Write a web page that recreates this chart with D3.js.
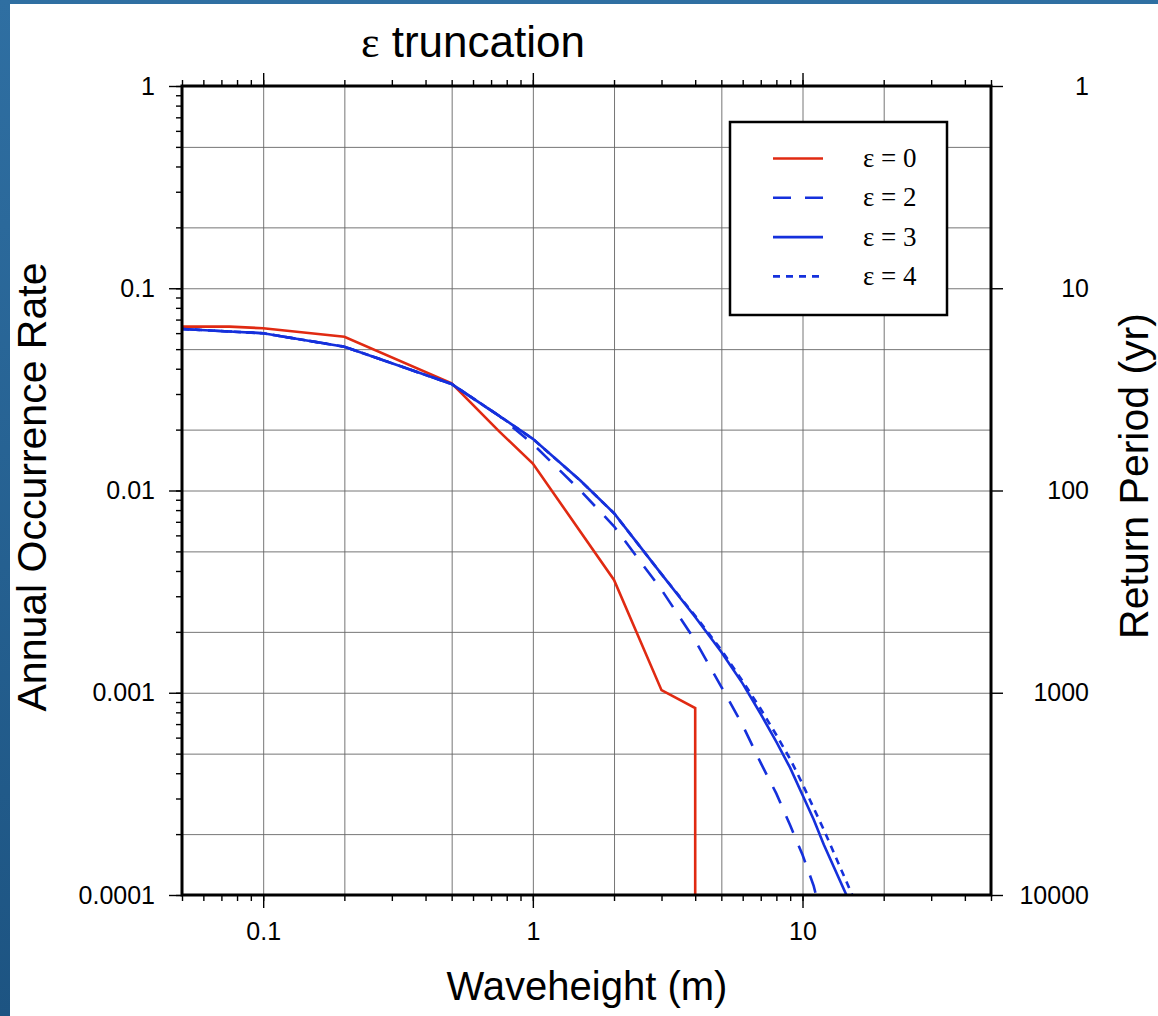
<!DOCTYPE html>
<html>
<head>
<meta charset="utf-8">
<script src="https://cdn.jsdelivr.net/npm/d3@7"></script>
<style>
  body { margin: 0; padding: 0; background: #fff; }
  text { font-family: "Liberation Sans", Arial, Helvetica, sans-serif; fill: #000; }
  .serif { font-family: "Liberation Serif", "Times New Roman", serif; }
</style>
</head>
<body>
<div id="chart"></div>
<script>
// chart.js

// Data
const heightsEps0 = [0.05, 0.075, 0.1, 0.2, 0.5, 0.75, 1, 2, 3, 4, 4];
const ratesEps0 = [0.0646, 0.0646, 0.0634, 0.0576, 0.0339, 0.0196, 0.0136, 0.00361, 0.00103, 0.00084, 0.00001];

const heights = [0.05, 0.075, 0.1, 0.2, 0.5, 0.75, 1, 1.5, 2, 3, 4, 5, 6, 7, 8, 9, 10, 11, 12, 15, 20];
const ratesEps2 = [0.0629, 0.0611, 0.0599, 0.0514, 0.0336, 0.0234, 0.0170, 0.0100, 0.00665, 0.00323, 0.00181, 0.00107, 0.00069, 0.00045, 0.000317, 0.000221, 0.000158, 0.000111, 0.00007, 0.00003, 0.00001];
const ratesEps3 = [0.0629, 0.0611, 0.0599, 0.0514, 0.0336, 0.0234, 0.0180, 0.0112, 0.00772, 0.00386, 0.00237, 0.00159, 0.00111, 0.000785, 0.000571, 0.000425, 0.000312, 0.000236, 0.000177, 0.0000913, 0.000035];
const ratesEps4 = [0.0629, 0.0611, 0.0599, 0.0514, 0.0336, 0.0234, 0.0180, 0.0112, 0.00772, 0.00386, 0.00240, 0.00163, 0.00114, 0.000831, 0.000618, 0.00047, 0.000354, 0.000269, 0.00021, 0.000106, 0.000045];

const seriesLabels = ['ε = 0', 'ε = 2', 'ε = 3', 'ε = 4'];

const xMajorTicks = [0.1, 1, 10];
const xGridTicks = [0.1, 0.2, 0.5, 1, 2, 5, 10, 20];
const yMajorTicks = [1, 0.1, 0.01, 0.001, 0.0001];
const yTickLabels = ['1', '0.1', '0.01', '0.001', '0.0001'];
const yGridTicks = [0.5, 0.2, 0.1, 0.05, 0.02, 0.01, 0.005, 0.002, 0.001, 0.0005, 0.0002];
const periodTicks = [1, 10, 100, 1000, 10000];

// Dimensions
const pageW = 1158;
const pageH = 1016;
const margin = { top: 86, right: 167, bottom: 121, left: 182 };
const width = pageW - margin.left - margin.right;
const height = pageH - margin.top - margin.bottom;

const red = '#e02a12';
const blue = '#1530dc';

const root = d3.select('#chart')
  .append('svg')
  .attr('width', pageW)
  .attr('height', pageH);

// slide background strip
const defs = root.append('defs');
const grad = defs.append('linearGradient')
  .attr('id', 'bg')
  .attr('x1', 0).attr('y1', 0).attr('x2', 0).attr('y2', 1);
grad.append('stop').attr('offset', '0%').attr('stop-color', '#2f6fa2');
grad.append('stop').attr('offset', '100%').attr('stop-color', '#1d5482');

root.append('rect')
  .attr('width', pageW).attr('height', pageH)
  .attr('fill', 'url(#bg)');
root.append('rect')
  .attr('x', 10).attr('y', 4)
  .attr('width', pageW - 10).attr('height', pageH - 4)
  .attr('fill', '#fff');

defs.append('clipPath').attr('id', 'plotClip')
  .append('rect').attr('width', width).attr('height', height);

const svg = root.append('g')
  .attr('transform', `translate(${margin.left},${margin.top})`);

// Scales
const x = d3.scaleLog().domain([0.05, 50]).range([0, width]);
const y = d3.scaleLog().domain([0.0001, 1]).range([height, 0]);
const yPeriod = d3.scaleLog().domain([1, 10000]).range([0, height]);

// minor ticks 2..9 in every decade
function minorTicks(lo, hi) {
  const out = [];
  for (let e = Math.floor(Math.log10(lo)); e <= Math.ceil(Math.log10(hi)); e++) {
    for (let k = 1; k <= 9; k++) {
      const v = k * Math.pow(10, e);
      if (v >= lo * 0.999 && v <= hi * 1.001) out.push(v);
    }
  }
  return out;
}
const xMinor = minorTicks(0.05, 50);
const yMinor = minorTicks(0.0001, 1);

// Grid
svg.append('g')
  .attr('class', 'grid')
  .call(d3.axisBottom(x).tickValues(xGridTicks).tickSize(height).tickFormat(''))
  .call(g => g.select('.domain').remove());
svg.append('g')
  .attr('class', 'grid')
  .call(d3.axisRight(y).tickValues(yGridTicks).tickSize(width).tickFormat(''))
  .call(g => g.select('.domain').remove());
svg.selectAll('.grid line')
  .attr('stroke', '#666')
  .attr('stroke-width', 0.9);

// Curves
const line = d3.line()
  .x(d => x(d[0]))
  .y(d => y(d[1]));

const curves = [
  { pts: d3.zip(heightsEps0, ratesEps0), color: red, dash: null },
  { pts: d3.zip(heights, ratesEps2), color: blue, dash: '18,14' },
  { pts: d3.zip(heights, ratesEps3), color: blue, dash: null },
  { pts: d3.zip(heights, ratesEps4), color: blue, dash: '7,6' }
];

svg.append('g')
  .attr('clip-path', 'url(#plotClip)')
  .selectAll('path')
  .data(curves)
  .enter().append('path')
  .attr('d', d => line(d.pts))
  .attr('fill', 'none')
  .attr('stroke', d => d.color)
  .attr('stroke-width', 2.6)
  .attr('stroke-dasharray', d => d.dash);

// Axes
function styleAxis(g) {
  g.select('.domain').remove();
  g.selectAll('line').attr('stroke', '#000').attr('stroke-width', 1.4);
  g.selectAll('text')
    .style('font-family', '"Liberation Sans", Arial, Helvetica, sans-serif')
    .style('font-size', '25px')
    .attr('fill', '#000');
}

// bottom
svg.append('g')
  .attr('transform', `translate(0,${height})`)
  .call(d3.axisBottom(x).tickValues(xMinor).tickSize(6).tickFormat(''))
  .call(styleAxis);
svg.append('g')
  .attr('transform', `translate(0,${height})`)
  .call(d3.axisBottom(x).tickValues(xMajorTicks).tickSize(13).tickPadding(14).tickFormat(d3.format('')))
  .call(styleAxis);

// top
svg.append('g')
  .call(d3.axisTop(x).tickValues(xMinor).tickSize(6).tickFormat(''))
  .call(styleAxis);
svg.append('g')
  .call(d3.axisTop(x).tickValues(xMajorTicks).tickSize(13).tickFormat(''))
  .call(styleAxis);

// left
svg.append('g')
  .call(d3.axisLeft(y).tickValues(yMinor).tickSize(6).tickFormat(''))
  .call(styleAxis);
svg.append('g')
  .call(d3.axisLeft(y).tickValues(yMajorTicks).tickSize(13).tickPadding(14)
    .tickFormat((d, i) => yTickLabels[i]))
  .call(styleAxis);

// right (return period)
svg.append('g')
  .attr('transform', `translate(${width},0)`)
  .call(d3.axisRight(yPeriod).tickValues(periodTicks).tickSize(12).tickFormat(d3.format('')))
  .call(styleAxis)
  .selectAll('text')
  .attr('x', 98)
  .style('text-anchor', 'end');

// frame
svg.append('rect')
  .attr('width', width)
  .attr('height', height)
  .attr('fill', 'none')
  .attr('stroke', '#000')
  .attr('stroke-width', 3);

// Legend
const legend = svg.append('g')
  .attr('transform', `translate(${730 - margin.left},${122 - margin.top})`);

legend.append('rect')
  .attr('width', 217)
  .attr('height', 193)
  .attr('fill', '#fff')
  .attr('stroke', '#000')
  .attr('stroke-width', 2.5);

const rows = legend.selectAll('.row')
  .data(curves)
  .enter().append('g')
  .attr('class', 'row')
  .attr('transform', (d, i) => `translate(0,${36.5 + i * 39.3})`);

rows.append('line')
  .attr('x1', 43).attr('x2', 93)
  .attr('stroke', d => d.color)
  .attr('stroke-width', 2.6)
  .attr('stroke-dasharray', d => d.dash);

rows.append('text')
  .attr('class', 'serif')
  .attr('x', 133)
  .attr('y', 8.5)
  .style('font-size', '27px')
  .text((d, i) => seriesLabels[i]);

// Titles
root.append('text')
  .attr('x', 473)
  .attr('y', 57)
  .attr('text-anchor', 'middle')
  .style('font-size', '44px')
  .call(t => {
    t.append('tspan').attr('class', 'serif').text('ε');
    t.append('tspan').text(' truncation');
  });

root.append('text')
  .attr('x', 587)
  .attr('y', 1000)
  .attr('text-anchor', 'middle')
  .style('font-size', '40px')
  .text('Waveheight (m)');

root.append('text')
  .attr('transform', 'translate(46,487) rotate(-90)')
  .attr('text-anchor', 'middle')
  .style('font-size', '41px')
  .text('Annual Occurrence Rate');

root.append('text')
  .attr('transform', 'translate(1148,476) rotate(-90)')
  .attr('text-anchor', 'middle')
  .style('font-size', '41px')
  .text('Return Period (yr)');
</script>
</body>
</html>
